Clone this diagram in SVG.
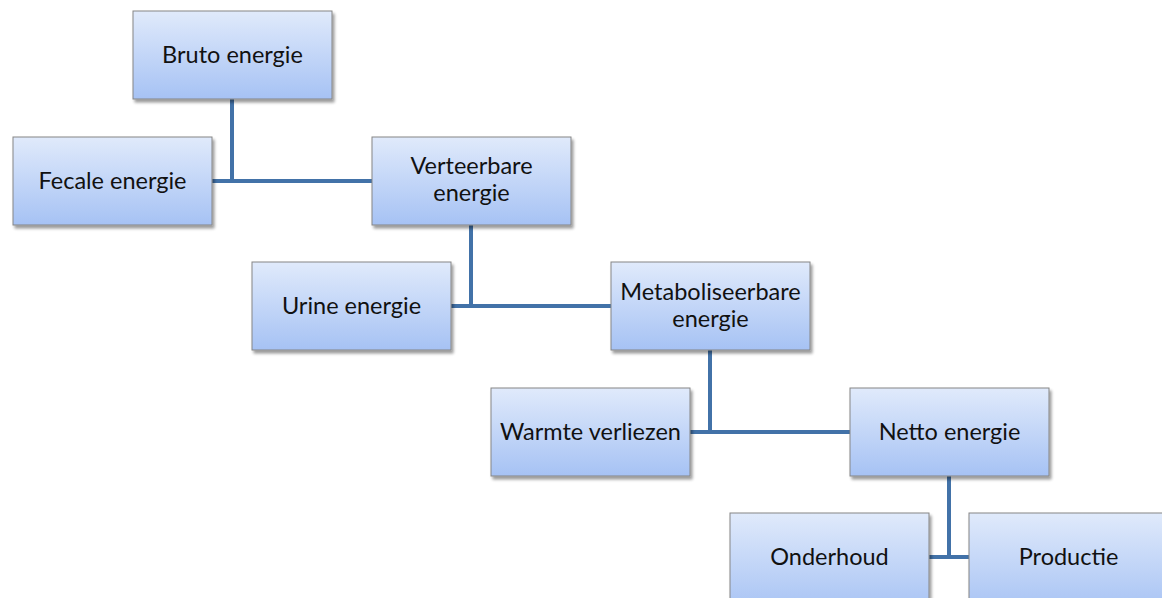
<svg xmlns="http://www.w3.org/2000/svg" width="1162" height="598" viewBox="0 0 1162 598">
<defs>
<linearGradient id="g" x1="0" y1="0" x2="0" y2="1">
<stop offset="0" stop-color="#e0eafb"/>
<stop offset="1" stop-color="#a6c2f4"/>
</linearGradient>
<filter id="sh" x="-10%" y="-10%" width="125%" height="130%">
<feGaussianBlur in="SourceAlpha" stdDeviation="1.5"/>
<feOffset dx="2" dy="3" result="b"/>
<feComponentTransfer><feFuncA type="linear" slope="0.4"/></feComponentTransfer>
<feMerge><feMergeNode/><feMergeNode in="SourceGraphic"/></feMerge>
</filter>
</defs>
<style>
.box{fill:url(#g);stroke:#858585;stroke-width:1;filter:url(#sh)}
.t{font-family:Lato,"Open Sans",sans-serif;font-size:23.5px;fill:#111;text-anchor:middle}
.c{stroke:#4272a8;stroke-width:4;fill:none}
</style>
<rect width="1162" height="598" fill="#fff"/>
<g id="connectors">
<path class="c" d="M232 99V181M212 181H372"/>
<path class="c" d="M471 225V306M451 306H611"/>
<path class="c" d="M710 350V432M690 432H850"/>
<path class="c" d="M949 476V557M929 557H969"/>
</g>
<g id="bruto"><rect class="box" x="133" y="11" width="199" height="88"/><text class="t" x="232.5" y="63">Bruto energie</text></g>
<g id="fecale"><rect class="box" x="13" y="137" width="199" height="88"/><text class="t" x="112.5" y="189">Fecale energie</text></g>
<g id="verteerbare"><rect class="box" x="372" y="137" width="199" height="88"/><text class="t" x="471.5" y="174">Verteerbare</text><text class="t" x="471.5" y="201">energie</text></g>
<g id="urine"><rect class="box" x="252" y="262" width="199" height="88"/><text class="t" x="351.5" y="314">Urine energie</text></g>
<g id="metaboliseerbare"><rect class="box" x="611" y="262" width="199" height="88"/><text class="t" x="710.5" y="300">Metaboliseerbare</text><text class="t" x="710.5" y="327">energie</text></g>
<g id="warmte"><rect class="box" x="491" y="388" width="199" height="88"/><text class="t" x="590.5" y="440">Warmte verliezen</text></g>
<g id="netto"><rect class="box" x="850" y="388" width="199" height="88"/><text class="t" x="949.5" y="440">Netto energie</text></g>
<g id="onderhoud"><rect class="box" x="730" y="513" width="199" height="100"/><text class="t" x="829.5" y="565">Onderhoud</text></g>
<g id="productie"><rect class="box" x="969" y="513" width="199" height="100"/><text class="t" x="1068.5" y="565">Productie</text></g>
</svg>
